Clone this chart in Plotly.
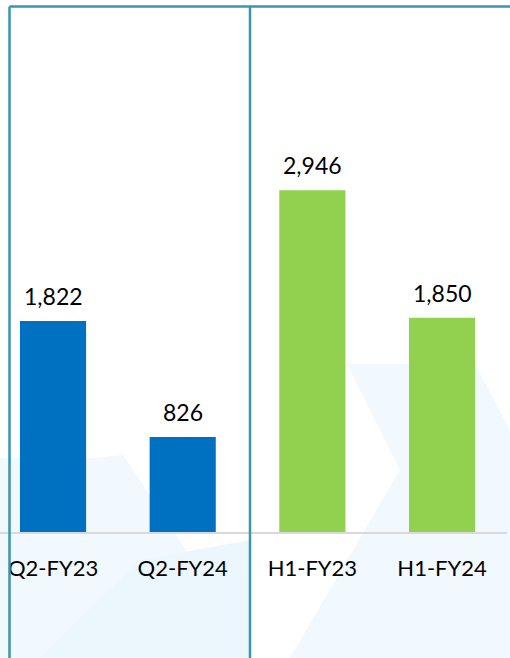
import plotly.graph_objects as go

categories = ["Q2-FY23", "Q2-FY24", "H1-FY23", "H1-FY24"]
values = [1822, 826, 2946, 1850]
colors = ["#0070C0", "#0070C0", "#92D050", "#92D050"]
value_labels = ["1,822", "826", "2,946", "1,850"]

FONT = "Lato"
W, H = 510, 658


def px(x, y):
    return f"{x / W:.4f},{1 - y / H:.4f}"


def poly(points):
    return "M " + " L ".join(px(x, y) for x, y in points) + " Z"


fig = go.Figure()
fig.add_trace(go.Bar(
    x=categories, y=values,
    marker=dict(color=colors, line=dict(width=0)),
    width=0.51,
    hoverinfo="skip",
))

for c, v, t in zip(categories, values, value_labels):
    fig.add_annotation(x=c, y=v, text=t, showarrow=False, yanchor="bottom",
                       yshift=9, font=dict(family=FONT, size=23, color="#000000"))

shapes = []
# faint background mountains (decorative)
bg = "#F1F8FE"
shapes.append(dict(type="path", xref="paper", yref="paper",
                   path=poly([(0, 458), (95, 458), (123, 455), (250, 648), (250, 658), (0, 658)]),
                   fillcolor=bg, line=dict(width=0), layer="below"))
shapes.append(dict(type="path", xref="paper", yref="paper",
                   path=poly([(347, 364), (475, 364), (510, 430), (510, 658), (290, 658),
                              (400, 470), (347, 364)]),
                   fillcolor=bg, line=dict(width=0), layer="below"))
shapes.append(dict(type="path", xref="paper", yref="paper",
                   path=poly([(40, 658), (140, 560), (250, 540), (250, 658)]),
                   fillcolor="#ECF6FD", line=dict(width=0), layer="below"))
# baseline
shapes.append(dict(type="line", xref="paper", yref="paper", x0=0, x1=0.994,
                   y0=1 - 533 / H, y1=1 - 533 / H, line=dict(color="#D9D9D9", width=2)))
# frame lines
teal = "#3A94AE"
shapes.append(dict(type="line", xref="paper", yref="paper", x0=9.5 / W, x1=1,
                   y0=1 - 6.5 / H, y1=1 - 6.5 / H, line=dict(color=teal, width=2.5)))
shapes.append(dict(type="line", xref="paper", yref="paper", x0=9.5 / W, x1=9.5 / W,
                   y0=0, y1=1 - 6.5 / H, line=dict(color=teal, width=2.5)))
shapes.append(dict(type="line", xref="paper", yref="paper", x0=250 / W, x1=250 / W,
                   y0=0, y1=1 - 6.5 / H, line=dict(color=teal, width=2.5)))

fig.update_layout(
    width=W, height=H,
    margin=dict(l=0, r=0, t=0, b=0),
    paper_bgcolor="#FFFFFF", plot_bgcolor="rgba(0,0,0,0)",
    showlegend=False,
    shapes=shapes,
    xaxis=dict(range=[-0.409, 3.524], showgrid=False, zeroline=False, showline=False,
               ticks="", tickfont=dict(family=FONT, size=22, color="#000000"),
               ticklabelstandoff=20, fixedrange=True),
    yaxis=dict(domain=[1 - 533 / H, 1], range=[0, 4581], visible=False, fixedrange=True),
)

fig.write_html("out.html", config={"displayModeBar": False},
               post_script="document.body.style.margin='0';")
